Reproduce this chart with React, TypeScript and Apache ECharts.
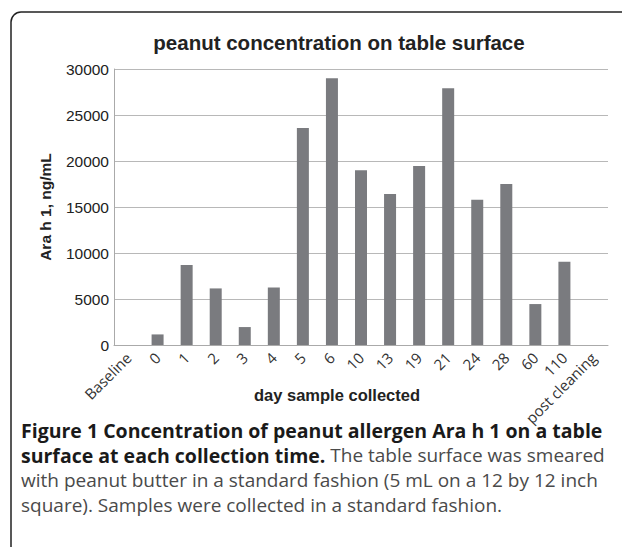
import React, { useEffect, useRef } from "react";
import * as echarts from "echarts";

const categories = ["Baseline", "0", "1", "2", "3", "4", "5", "6", "10", "13", "19", "21", "24", "28", "60", "110", "post cleaning"];
const values = [0, 1150, 8700, 6150, 1950, 6250, 23600, 29000, 19000, 16400, 19450, 27900, 15800, 17500, 4450, 9050, 0];
const yTicks = { min: 0, max: 30000, interval: 5000 };

const chartTitle = "peanut concentration on table surface";
const yName = "Ara h 1, ng/mL";
const xName = "day sample collected";

const captionLines: { bold: string; normal: string }[] = [
  { bold: "Figure 1 Concentration of peanut allergen Ara h 1 on a table", normal: "" },
  { bold: "surface at each collection time.", normal: " The table surface was smeared" },
  { bold: "", normal: "with peanut butter in a standard fashion (5 mL on a 12 by 12 inch" },
  { bold: "", normal: "square). Samples were collected in a standard fashion." },
];

export default function App() {
  const ref = useRef<HTMLDivElement>(null);
  useEffect(() => {
    if (!ref.current) return;
    const chart = echarts.init(ref.current, undefined, { renderer: "svg" });
    const sans = "Liberation Sans, Arial, sans-serif";
    const capFont = "Open Sans, sans-serif";

    const captionGraphics = captionLines.map((ln, i) => {
      const parts: string[] = [];
      if (ln.bold) parts.push("{b|" + ln.bold + "}");
      if (ln.normal) parts.push("{n|" + ln.normal + "}");
      return {
        type: "text",
        x: 21,
        y: 430 + i * 25,
        style: {
          text: parts.join(""),
          verticalAlign: "middle",
          rich: {
            b: { fontFamily: capFont, fontSize: 19.5, fontWeight: "bold", fill: "#1a1a1a" },
            n: { fontFamily: capFont, fontSize: 19, fill: "#4a4a4a" },
          },
        },
      };
    });

    chart.setOption({
      animation: false,
      backgroundColor: "#fff",
      title: {
        text: chartTitle,
        left: 334,
        top: 27,
        textAlign: "center",
        textStyle: { fontFamily: sans, fontSize: 20.5, fontWeight: "bold", color: "#222" },
      },
      grid: { left: 114, right: 14, top: 69, bottom: 202, containLabel: false },
      xAxis: {
        type: "category",
        data: categories,
        axisLine: { show: true, lineStyle: { color: "#aaa", width: 1 } },
        axisTick: { show: false },
        axisLabel: {
          interval: 0,
          rotate: 45,
          margin: 10,
          fontFamily: capFont,
          fontSize: 15,
          color: "#333",
        },
      },
      yAxis: {
        type: "value",
        min: yTicks.min,
        max: yTicks.max,
        interval: yTicks.interval,
        axisLine: { show: true, lineStyle: { color: "#aaa", width: 1 } },
        axisTick: { show: false },
        splitLine: { lineStyle: { color: "#b8b8b8", width: 1 } },
        axisLabel: {
          margin: 5,
          fontFamily: sans,
          fontSize: 15.5,
          color: "#222",
          formatter: (v: number) => String(v),
        },
      },
      series: [
        {
          type: "bar",
          data: values,
          barWidth: 12,
          itemStyle: { color: "#7a7b7f" },
        },
      ],
      graphic: [
        {
          type: "rect",
          shape: { x: 11, y: 12, width: 800, height: 700, r: 10 },
          style: { fill: "none", stroke: "#222", lineWidth: 1.5 },
          silent: true,
        },
        {
          type: "text",
          x: 45,
          y: 207,
          rotation: Math.PI / 2,
          style: {
            text: yName,
            align: "center",
            verticalAlign: "middle",
            fontFamily: sans,
            fontSize: 15.5,
            fontWeight: "bold",
            fill: "#222",
          },
        },
        {
          type: "text",
          x: 337,
          y: 395,
          style: {
            text: xName,
            align: "center",
            verticalAlign: "middle",
            fontFamily: sans,
            fontSize: 16.5,
            fontWeight: "bold",
            fill: "#222",
          },
        },
        ...captionGraphics,
      ],
    });
    return () => chart.dispose();
  }, []);
  return (
    <div
      ref={ref}
      style={{ position: "absolute", left: 0, top: 0, width: 622, height: 547 }}
    />
  );
}
